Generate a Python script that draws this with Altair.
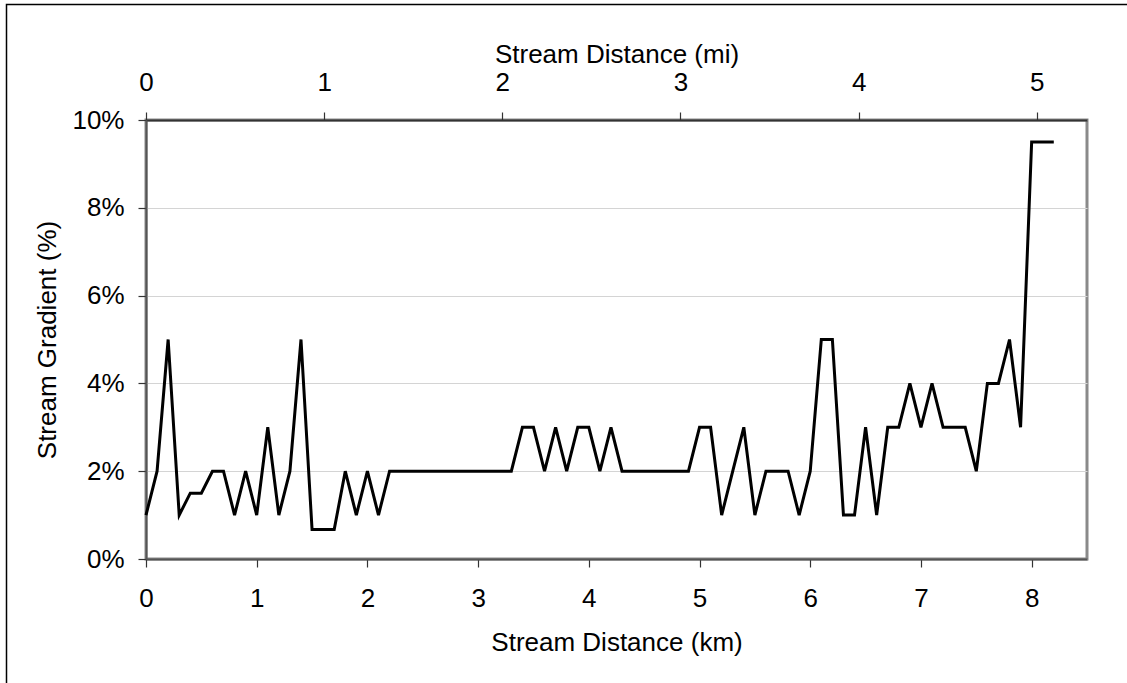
import altair as alt
import pandas as pd

# Stream distance (km) and stream gradient (%)
km = [0.0, 0.1, 0.2, 0.3, 0.4, 0.5, 0.6, 0.7, 0.8, 0.9,
      1.0, 1.1, 1.2, 1.3, 1.4, 1.5, 1.6, 1.7, 1.8, 1.9,
      2.0, 2.1, 2.2, 2.3, 2.4, 2.5, 2.6, 2.7, 2.8, 2.9,
      3.0, 3.1, 3.2, 3.3, 3.4, 3.5, 3.6, 3.7, 3.8, 3.9,
      4.0, 4.1, 4.2, 4.3, 4.4, 4.5, 4.6, 4.7, 4.8, 4.9,
      5.0, 5.1, 5.2, 5.3, 5.4, 5.5, 5.6, 5.7, 5.8, 5.9,
      6.0, 6.1, 6.2, 6.3, 6.4, 6.5, 6.6, 6.7, 6.8, 6.9,
      7.0, 7.1, 7.2, 7.3, 7.4, 7.5, 7.6, 7.7, 7.8, 7.9,
      8.0, 8.1, 8.2]
gradient = [1, 2, 5, 1, 1.5, 1.5, 2, 2, 1, 2,
            1, 3, 1, 2, 5, 0.67, 0.67, 0.67, 2, 1,
            2, 1, 2, 2, 2, 2, 2, 2, 2, 2,
            2, 2, 2, 2, 3, 3, 2, 3, 2, 3,
            3, 2, 3, 2, 2, 2, 2, 2, 2, 2,
            3, 3, 1, 2, 3, 1, 2, 2, 2, 1,
            2, 5, 5, 1, 1, 3, 1, 3, 3, 4,
            3, 4, 3, 3, 3, 2, 4, 4, 5, 3,
            9.5, 9.5, 9.5]

km_ticks = [0, 1, 2, 3, 4, 5, 6, 7, 8]
mi_ticks = [0, 1, 2, 3, 4, 5]
pct_ticks = [0, 2, 4, 6, 8, 10]
KM_PER_MI = 1.609344
KM_MAX = 8.5

df = pd.DataFrame({"km": km, "gradient": gradient})

FONT = "Liberation Sans"
FS = 26

y_enc = alt.Y(
    "gradient:Q",
    scale=alt.Scale(domain=[0, 10], nice=False),
    axis=alt.Axis(
        values=pct_ticks, labelExpr="datum.value + '%'",
        title="Stream Gradient (%)",
        grid=True, gridColor="#d4d4d4", gridWidth=1,
        domainColor="#555555", domainWidth=2,
        tickColor="#333333", tickSize=8, tickWidth=1.2,
        labelPadding=14, labelFlush=False,
        labelFont=FONT, labelFontSize=FS, labelColor="black",
        titleFont=FONT, titleFontSize=FS, titleFontWeight="normal", titleColor="black",
        titleBaseline="alphabetic", titleX=-91, titleY=219.5, titleAngle=270,
    ),
)

line = alt.Chart(df).mark_line(color="black", strokeWidth=3, strokeJoin="miter").encode(
    x=alt.X(
        "km:Q",
        scale=alt.Scale(domain=[0, KM_MAX], nice=False, zero=True),
        axis=alt.Axis(
            values=km_ticks, format="d", orient="bottom", grid=False,
            title="Stream Distance (km)",
            domainColor="#555555", domainWidth=2,
            tickColor="#333333", tickSize=8, tickWidth=1.2,
            labelBaseline="alphabetic", labelPadding=39, labelFlush=False,
            labelFont=FONT, labelFontSize=FS, labelColor="black",
            titleFont=FONT, titleFontSize=FS, titleFontWeight="normal", titleColor="black",
            titleBaseline="alphabetic", titleY=91,
        ),
    ),
    y=y_enc,
)

top = alt.Chart(df).transform_calculate(
    mi=f"datum.km / {KM_PER_MI}"
).mark_line(opacity=0).encode(
    x=alt.X(
        "mi:Q",
        scale=alt.Scale(domain=[0, KM_MAX / KM_PER_MI], nice=False, zero=True),
        axis=alt.Axis(
            values=mi_ticks, format="d", orient="top", grid=False,
            title="Stream Distance (mi)",
            domainColor="#333333", domainWidth=2,
            tickColor="#333333", tickSize=8, tickWidth=1.2,
            labelBaseline="alphabetic", labelPadding=22, labelFlush=False,
            labelFont=FONT, labelFontSize=FS, labelColor="black",
            titleFont=FONT, titleFontSize=FS, titleFontWeight="normal", titleColor="black",
            titleBaseline="alphabetic", titleY=-58,
        ),
    ),
    y=alt.Y("gradient:Q"),
)

# outer chart frame (only its left and top edges fall inside the picture)
one = pd.DataFrame({"v": [0]})
frame = alt.Chart(one).mark_rect(fill=None, stroke="black", strokeWidth=1.5).encode(
    x=alt.value(-139.5), x2=alt.value(1200), y=alt.value(-115.5), y2=alt.value(800)
)

chart = alt.layer(frame, line, top).resolve_scale(
    x="independent"
).properties(
    width=941, height=439,
    autosize=alt.AutoSizeParams(type="none"),
    padding={"left": 146, "top": 120, "right": 40, "bottom": 124},
    background="white",
).configure_view(stroke="#8a8a8a", strokeWidth=3)

chart.save("out.html", embed_options={"renderer": "svg", "actions": False})
